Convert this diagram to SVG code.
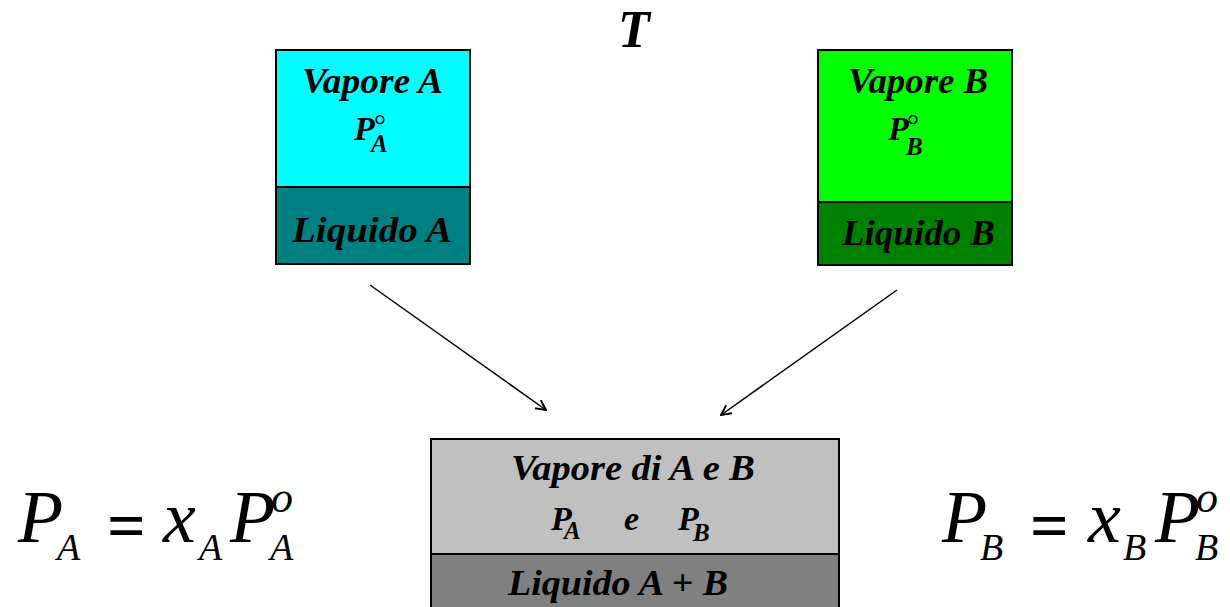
<svg xmlns="http://www.w3.org/2000/svg" width="1230" height="607" viewBox="0 0 1230 607">
  <style>
    .box { stroke: #000; stroke-width: 2; }
    .lbl { font-family: "Liberation Serif", "Times New Roman", serif; font-style: italic; font-weight: bold; fill: #000; }
    .deg { font-family: "Liberation Serif", "Times New Roman", serif; font-weight: normal; fill: #000; }
    .eq { font-family: "Liberation Serif", "Times New Roman", serif; font-style: italic; fill: #000; }
    .eqs { font-family: "Liberation Serif", "Times New Roman", serif; font-weight: bold; fill: #000; }
    .conn { stroke: #000; stroke-width: 1.5; fill: none; marker-end: url(#arrow); }
  </style>
  <defs>
    <marker id="arrow" viewBox="0 0 12 12" refX="11" refY="6" markerWidth="12" markerHeight="12" markerUnits="userSpaceOnUse" orient="auto">
      <path d="M1,1 L11,6 L1,11" fill="none" stroke="#000" stroke-width="2"/>
    </marker>
  </defs>
  <rect width="1230" height="607" fill="#fff"/>

  <text class="lbl" x="634" y="47" font-size="52" text-anchor="middle">T</text>

  <!-- pure component A -->
  <g id="nodeA">
    <rect class="box" x="276" y="50" width="194" height="137" fill="#00FFFF"/>
    <rect class="box" x="276" y="187" width="194" height="77" fill="#008080"/>
    <text class="lbl" x="302" y="93" font-size="35" textLength="141" lengthAdjust="spacingAndGlyphs">Vapore A</text>
    <text class="lbl"><tspan x="354" y="140" font-size="34">P</tspan><tspan x="371" y="152" font-size="25">A</tspan></text>
    <text class="deg" x="374" y="135" font-size="30">°</text>
    <text class="lbl" x="292" y="242" font-size="35" textLength="160" lengthAdjust="spacingAndGlyphs">Liquido A</text>
  </g>

  <!-- pure component B -->
  <g id="nodeB">
    <rect class="box" x="818" y="50" width="194" height="152" fill="#00FF00"/>
    <rect class="box" x="818" y="202" width="194" height="63" fill="#008000"/>
    <text class="lbl" x="848" y="93" font-size="35" textLength="140" lengthAdjust="spacingAndGlyphs">Vapore B</text>
    <text class="lbl"><tspan x="888" y="140" font-size="34">P</tspan><tspan x="906" y="155" font-size="25">B</tspan></text>
    <text class="deg" x="907" y="135" font-size="30">°</text>
    <text class="lbl" x="842" y="245" font-size="35" textLength="153" lengthAdjust="spacingAndGlyphs">Liquido B</text>
  </g>

  <!-- mixture of A and B -->
  <g id="nodeAB">
    <rect class="box" x="431" y="439" width="408" height="115" fill="#C0C0C0"/>
    <rect class="box" x="431" y="554" width="408" height="60" fill="#808080"/>
    <text class="lbl" x="511" y="480" font-size="36" textLength="244" lengthAdjust="spacingAndGlyphs">Vapore di A e B</text>
    <text class="lbl"><tspan x="551" y="530" font-size="34">P</tspan><tspan x="564" y="539" font-size="25">A</tspan><tspan x="624" y="530" font-size="34">e</tspan><tspan x="678" y="530" font-size="34">P</tspan><tspan x="693" y="541" font-size="25">B</tspan></text>
    <text class="lbl" x="508" y="595" font-size="36" textLength="220" lengthAdjust="spacingAndGlyphs">Liquido A + B</text>
  </g>

  <g id="connectors">
    <line class="conn" x1="370" y1="285" x2="546" y2="410"/>
    <line class="conn" x1="897" y1="290" x2="721" y2="415"/>
  </g>

  <!-- Raoult's law for A -->
  <g id="eqA">
    <text class="eq"><tspan x="18" y="542" font-size="74">P</tspan><tspan x="57" y="560" font-size="38">A</tspan><tspan class="eqs" x="107" y="548" font-size="68" font-style="normal">=</tspan><tspan x="163" y="542" font-size="74">x</tspan><tspan x="199" y="560" font-size="38">A</tspan><tspan x="230" y="542" font-size="74">P</tspan><tspan x="271" y="512" font-size="44">o</tspan></text>
    <text class="eq" x="270" y="560" font-size="38">A</text>
  </g>

  <!-- Raoult's law for B -->
  <g id="eqB">
    <text class="eq"><tspan x="942" y="542" font-size="74">P</tspan><tspan x="980" y="560" font-size="38">B</tspan><tspan class="eqs" x="1030" y="548" font-size="68" font-style="normal">=</tspan><tspan x="1088" y="542" font-size="74">x</tspan><tspan x="1123" y="560" font-size="38">B</tspan><tspan x="1155" y="542" font-size="74">P</tspan><tspan x="1196" y="512" font-size="44">o</tspan></text>
    <text class="eq" x="1195" y="560" font-size="38">B</text>
  </g>
</svg>
